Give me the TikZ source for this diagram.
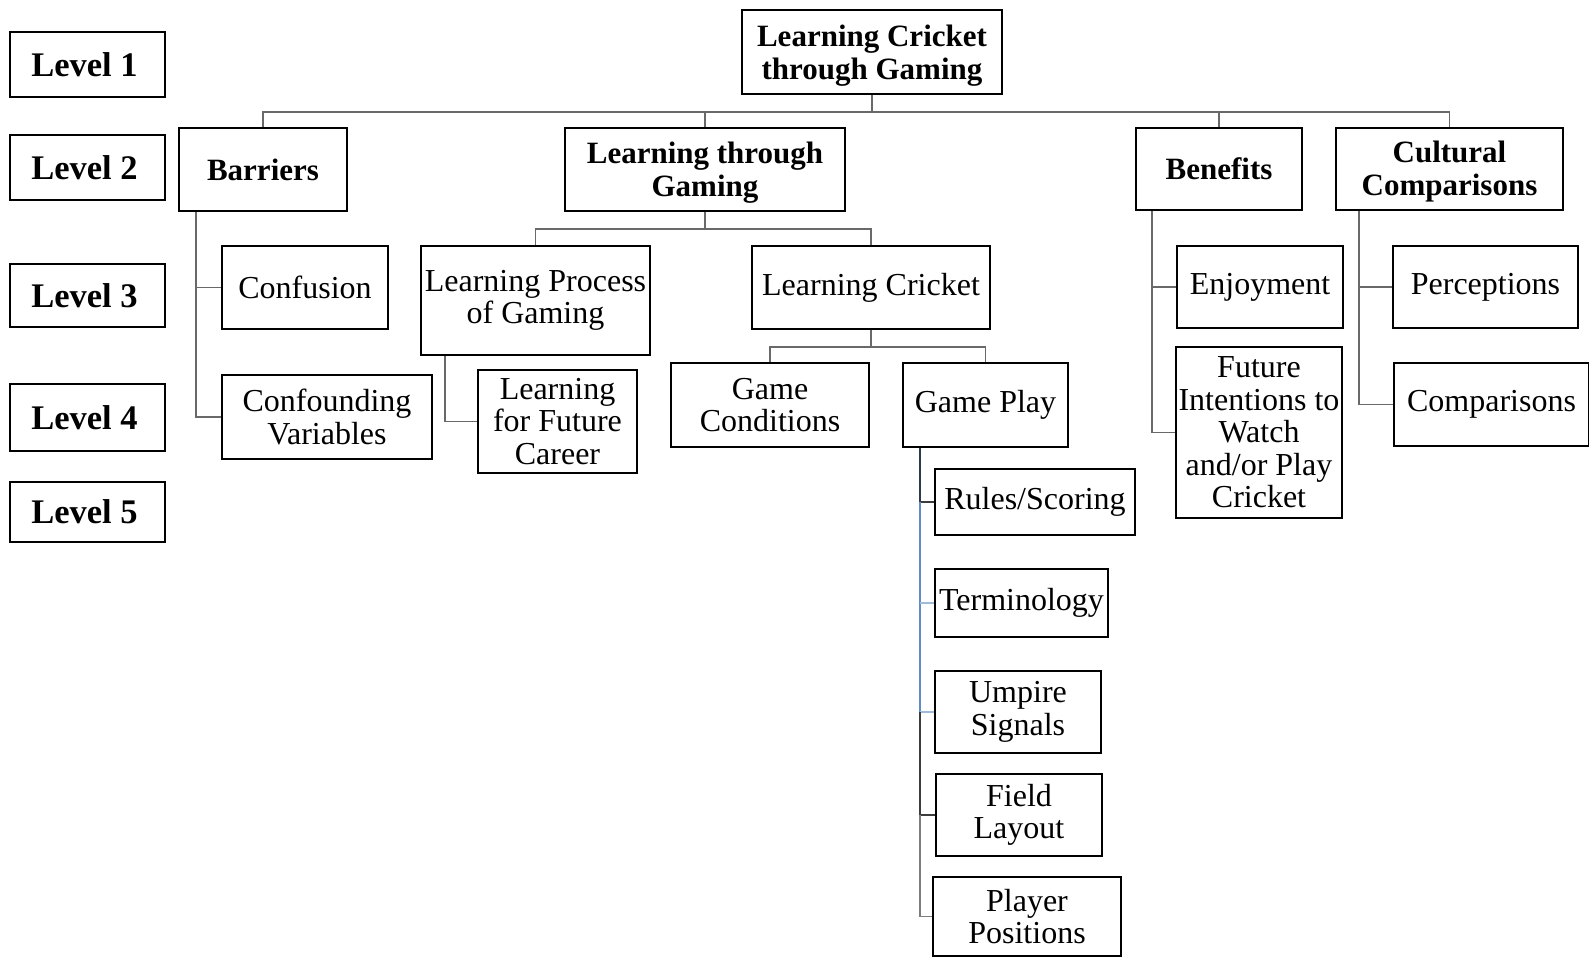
\documentclass[tikz,border=0pt]{standalone}
\usepackage{fontspec}
\setmainfont{Liberation Serif}
\definecolor{linegray}{RGB}{105,105,105}
\definecolor{navyline}{RGB}{45,58,78}
\definecolor{blueline}{RGB}{95,140,195}
\definecolor{darkline}{RGB}{60,60,60}
\definecolor{midgray}{RGB}{125,125,125}
\begin{document}
\begin{tikzpicture}[x=1pt,y=-1pt,
  box/.style={draw=black, line width=1.8pt, inner sep=0pt, align=center, font=\fontsize{32}{32.5}\selectfont},
  bbox/.style={box, font=\bfseries\fontsize{31}{33}\selectfont},
  lvl/.style={box, minimum width=155pt, font=\bfseries\fontsize{34.5}{34}\selectfont},
  conn/.style={draw=linegray, line width=1.5pt},
]
\useasboundingbox[fill=white] (0,0) rectangle (1589,956);

% level labels
\node[lvl, minimum height=65pt] (l1) at (87.5,64.5) {Level 1\hspace*{6pt}};
\node[lvl, minimum height=65pt] (l2) at (87.5,167.5) {Level 2\hspace*{6pt}};
\node[lvl, minimum height=63pt] (l3) at (87.5,295.5) {Level 3\hspace*{6pt}};
\node[lvl, minimum height=67pt] (l4) at (87.5,417.5) {Level 4\hspace*{6pt}};
\node[lvl, minimum height=60pt] (l5) at (87.5,512) {Level 5\hspace*{6pt}};

% level 1-2
\node[bbox, minimum width=260pt, minimum height=84pt] (root) at (872,52) {\rule{0pt}{29pt}Learning Cricket\\through Gaming};
\node[bbox, minimum width=168pt, minimum height=83pt] (barriers) at (263,169.5) {Barriers};
\node[bbox, minimum width=280pt, minimum height=83pt] (ltg) at (705,169.5) {\rule{0pt}{27pt}Learning through\\Gaming};
\node[bbox, minimum width=166pt, minimum height=82pt] (benefits) at (1219,169) {Benefits};
\node[bbox, minimum width=227pt, minimum height=82pt] (cultural) at (1449.5,169) {\rule{0pt}{27pt}Cultural\\Comparisons};

% level 3-4
\node[box, minimum width=166pt, minimum height=83pt] (confusion) at (305,287.5) {Confusion};
\node[box, minimum width=210pt, minimum height=84pt] (confvar) at (327,417) {Confounding\\Variables};
\node[box, minimum width=229pt, minimum height=109pt] (lpg) at (535.5,300.5) {Learning Process\\of Gaming};
\node[box, minimum width=238pt, minimum height=83pt] (lc) at (871,287.5) {Learning Cricket};
\node[box, minimum width=159pt, minimum height=103pt] (lfc) at (557.5,421.5) {Learning\\for Future\\Career};
\node[box, minimum width=198pt, minimum height=84pt] (gc) at (770,405) {Game\\Conditions};
\node[box, minimum width=165pt, minimum height=84pt] (gp) at (985.5,405) {Game Play};
\node[box, minimum width=166pt, minimum height=82pt] (enjoy) at (1260,287) {Enjoyment};
\node[box, minimum width=166pt, minimum height=171pt] (fi) at (1259,432.5) {Future\\Intentions to\\Watch\\and/or Play\\Cricket};
\node[box, minimum width=185pt, minimum height=82pt] (perc) at (1485.5,287) {Perceptions};
\node[box, minimum width=195pt, minimum height=83pt] (comp) at (1491.5,404.5) {Comparisons};

% level 5
\node[box, minimum width=200pt, minimum height=66pt] (rules) at (1035,502) {Rules/Scoring};
\node[box, minimum width=173pt, minimum height=68pt] (term) at (1021.5,603) {Terminology};
\node[box, minimum width=166pt, minimum height=82pt] (umpire) at (1018,712) {Umpire\\Signals};
\node[box, minimum width=166pt, minimum height=82pt] (field) at (1019,815) {Field\\Layout};
\node[box, minimum width=188pt, minimum height=79pt] (player) at (1027,916.5) {Player\\Positions};

% bus coordinates
\coordinate (bus1) at (0,112);
\coordinate (bus2) at (0,229);
\coordinate (bus3) at (0,347);

% root to level 2
\foreach \c in {barriers,ltg,benefits,cultural}
  \draw[conn] (root.south) -- (root.south |- bus1) -| (\c.north);

% learning through gaming to children
\foreach \c in {lpg,lc}
  \draw[conn] (ltg.south) -- (ltg.south |- bus2) -| (\c.north);

% learning cricket to children
\foreach \c in {gc,gp}
  \draw[conn] (lc.south) -- (lc.south |- bus3) -| (\c.north);

% side trees
\coordinate (bx) at ([xshift=18pt]barriers.south west);
\draw[conn] (bx) |- (confusion.west);
\draw[conn] (bx) |- (confvar.west);

\coordinate (lx) at ([xshift=25pt]lpg.south west);
\draw[conn] (lx) |- (lfc.west);

\coordinate (ex) at ([xshift=17pt]benefits.south west);
\draw[conn] (ex) |- (enjoy.west);
\draw[conn] (ex) |- (fi.west);

\coordinate (cx) at ([xshift=24pt]cultural.south west);
\draw[conn] (cx) |- (perc.west);
\draw[conn] (cx) |- (comp.west);

% game play tree (coloured segments)
\coordinate (gx) at ([xshift=18pt]gp.south west);
\draw[conn, draw=navyline] (gx) -- (gx |- rules.west);
\draw[conn, draw=darkline] (gx |- rules.west) -- (rules.west);
\draw[conn, draw=blueline] (gx |- rules.west) -- (gx |- umpire.west);
\draw[conn, draw=blueline!60] (gx |- term.west) -- (term.west);
\draw[conn, draw=blueline!60] (gx |- umpire.west) -- (umpire.west);
\draw[conn, draw=darkline] (gx |- umpire.west) -- (gx |- field.west) -- (field.west);
\draw[conn, draw=midgray] (gx |- field.west) -- (gx |- player.west) -- (player.west);

\end{tikzpicture}
\end{document}
